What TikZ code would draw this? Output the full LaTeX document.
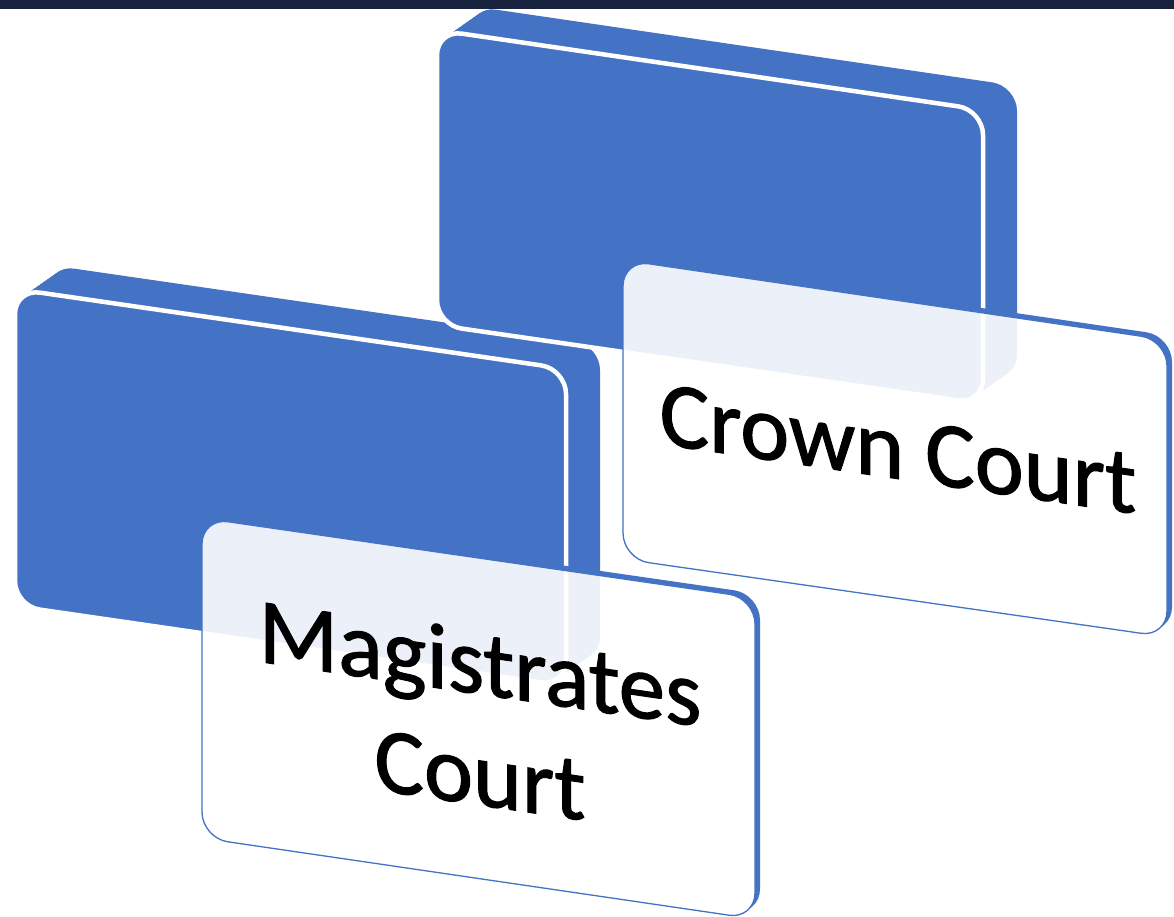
\documentclass[tikz,border=0pt]{standalone}
\usepackage{fontspec}
\setmainfont{Carlito}
\newfontfamily\tagfont[FakeBold=1.2]{Carlito}
\usepackage{tikz}

\definecolor{cardblue}{RGB}{68,114,196}
\definecolor{topbar}{RGB}{23,35,62}

\tikzset{
  slab/.style={fill=cardblue, rounded corners=25pt},
  slabface/.style={fill=cardblue, draw=white, line width=4.5pt, rounded corners=25pt},
  tagface/.style={fill=white, fill opacity=0.9, draw=cardblue, line width=1.3pt, rounded corners=26pt},
  tagtext/.style={font=\tagfont\fontsize{93}{111}\selectfont, align=center, yslant=-0.147, text=black}
}

% blue block: face corners, pushed back up and to the right
\newcommand{\slabcard}[8]{%
  \foreach \t in {24,...,1}
    \fill[slab, shift={(34*\t/24,-\t)}] (#1,#2) -- (#3,#4) -- (#5,#6) -- (#7,#8) -- cycle;
  \draw[slabface] (#1,#2) -- (#3,#4) -- (#5,#6) -- (#7,#8) -- cycle;
}

% label card: thin blue rim, see-through face
\newcommand{\tagcard}[8]{%
  \begin{scope}[even odd rule, rounded corners=26pt]
    \clip (-50,-50) rectangle (1250,1000)
      (#1,#2) -- (#3,#4) -- (#5,#6) -- (#7,#8) -- cycle;
    \foreach \t in {5,...,1}
      \fill[cardblue, shift={(\t,-0.8*\t)}] (#1,#2) -- (#3,#4) -- (#5,#6) -- (#7,#8) -- cycle;
  \end{scope}
  \draw[tagface] (#1,#2) -- (#3,#4) -- (#5,#6) -- (#7,#8) -- cycle;
}

\begin{document}
\begin{tikzpicture}[x=1pt, y=-1pt]
  \useasboundingbox (0,0) rectangle (1174,917);
  \clip (0,0) rectangle (1174,917);

  % blocks
  \slabcard{15}{289}{566}{369}{566}{686}{15}{606}
  \slabcard{437}{30}{983}{110}{983}{404}{437}{325}

  % labels
  \tagcard{623}{260}{1167}{340}{1167}{637}{623}{559}
  \tagcard{202}{518}{755}{598}{755}{919}{202}{838}

  \node[tagtext] (crown) at (898,449) {Crown Court};
  \node[tagtext] (magistrates) at (480,718) {Magistrates\\Court};

  \fill[topbar] (0,0) rectangle (1174,9);
\end{tikzpicture}
\end{document}
